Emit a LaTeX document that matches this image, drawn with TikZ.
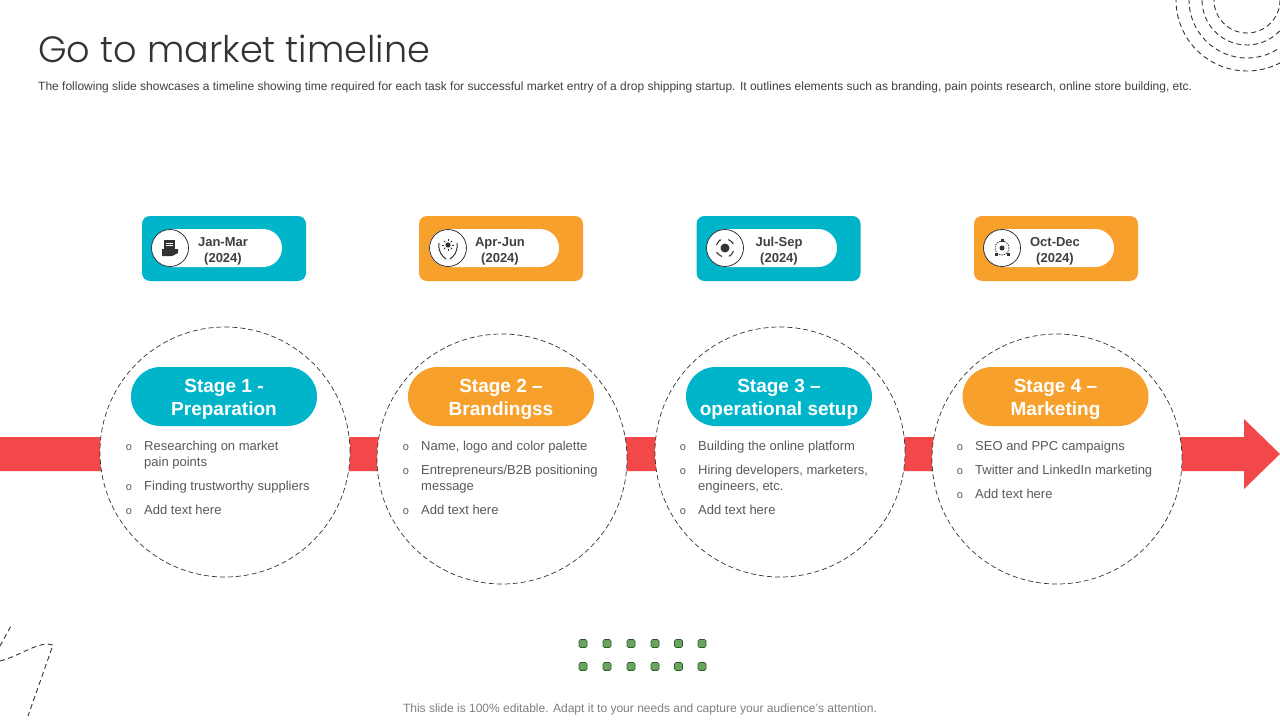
\documentclass[tikz,border=0pt]{standalone}
\usepackage{fontspec}
\setmainfont{Liberation Sans}
\IfFontExistsTF{Poppins Light}{\newfontfamily\titlefont{Poppins Light}}{\newfontfamily\titlefont{Poppins}}
\usepackage{graphicx}
\usetikzlibrary{calc,arrows.meta}
\definecolor{cTeal}{HTML}{00B4CA}
\definecolor{cOrange}{HTML}{F7A12C}
\definecolor{cRed}{HTML}{F2484A}
\definecolor{cTxt}{HTML}{595959}
\definecolor{cDark}{HTML}{404040}
\definecolor{cIcon}{HTML}{333333}
\definecolor{cGreen}{HTML}{6AA55F}
\definecolor{cGreenD}{HTML}{2E5A2A}
\definecolor{cFoot}{HTML}{7F7F7F}
\newcommand\bitem[4]{%
  \node[bultxt, anchor=base west] (#1) at (#2,#3) {#4};
  \node[bulmark, anchor=base] (#1m) at (#2-15,#3) {o};}
\newcommand\citem[4]{\node[bultxt, anchor=base west] (#1) at (#2,#3) {#4};}
\begin{document}
\begin{tikzpicture}[x=1pt,y=-1pt,
  datebox/.style={rounded corners=8pt, minimum width=164pt, minimum height=65pt, inner sep=0pt},
  datepill/.style={fill=white, rounded corners=19pt, minimum width=130pt, minimum height=38pt, inner sep=0pt},
  iconcirc/.style={circle, draw=cIcon, line width=0.8pt, fill=white, minimum size=37pt, inner sep=0pt},
  datetxt/.style={font=\fontsize{13}{16}\selectfont\bfseries, text=cDark, align=center, inner sep=0pt},
  stagepill/.style={rounded corners=29.5pt, minimum width=186pt, minimum height=59pt, inner sep=0pt},
  stagetxt/.style={text=white, align=center, inner sep=0pt, font=\fontsize{19}{23}\selectfont\bfseries},
  stagecirc/.style={circle, draw=cIcon, dash pattern=on 5pt off 3pt, line width=0.7pt, fill=white, minimum size=250pt, inner sep=0pt},
  bultxt/.style={font=\fontsize{13}{15}\selectfont, text=cTxt, inner sep=0pt},
  bulmark/.style={font=\fontsize{11}{12}\selectfont, text=cTxt, inner sep=0pt},
  gdot/.style={fill=cGreen, draw=cGreenD, line width=0.6pt, rounded corners=1.5pt, minimum size=8pt, inner sep=0pt},
  deco/.style={draw=cIcon, line width=0.9pt, dash pattern=on 5pt off 3.5pt},
  ico/.style={fill=cIcon},
  icol/.style={draw=cIcon, line width=1pt}
]
\useasboundingbox (0,0) rectangle (1280,720);
\fill[white] (0,0) rectangle (1280,720);

% decorations
\begin{scope}
\clip (0,0) rectangle (1280,720);
\foreach \r in {33,45,58,71} \draw[deco] (1247,0) circle (\r);
\draw[deco] (0,661) .. controls (20,656) and (40,640) .. (53,645) -- (28,716);
\draw[deco] (0,646) -- (12,624);
\end{scope}

% title
\node[anchor=base west, inner sep=0pt, text=cIcon] (title) at (38,62)
  {\resizebox{392pt}{!}{\titlefont Go to market timeline}};
\node[anchor=base west, inner sep=0pt, text=cDark] (sub) at (38,90)
  {\resizebox{1154pt}{!}{\fontsize{11}{13}\selectfont The following slide showcases a timeline showing time required for each task for successful market entry of a drop shipping startup. It outlines elements such as branding, pain points research, online store building, etc.}};

% date boxes
\node[datebox, fill=cTeal]   (d1) at (224,248.5) {};
\node[datebox, fill=cOrange] (d2) at (501,248.5) {};
\node[datebox, fill=cTeal]   (d3) at (778.5,248.5) {};
\node[datebox, fill=cOrange] (d4) at (1056,248.5) {};
\node[datepill] (p1) at (217,248) {};
\node[datepill] (p2) at (494,248) {};
\node[datepill] (p3) at (772,248) {};
\node[datepill] (p4) at (1049,248) {};
\node[iconcirc] (i1) at (170,248) {};
\node[iconcirc] (i2) at (448,248) {};
\node[iconcirc] (i3) at (725,248) {};
\node[iconcirc] (i4) at (1002,248) {};
\node[datetxt] (t1) at (223,251) {Jan-Mar\\(2024)};
\node[datetxt] (t2) at (500,251) {Apr-Jun\\(2024)};
\node[datetxt] (t3) at (779,251) {Jul-Sep\\(2024)};
\node[datetxt] (t4) at (1055,251) {Oct-Dec\\(2024)};

% icon 1
\fill[ico] (164,240) rectangle (175,249);
\fill[white] (166,242.5) rectangle (173,243.5);
\fill[white] (166,245) rectangle (173,246);
\fill[ico] (162,249) -- (178,249) -- (178,253) -- (172,256) -- (162,256) -- cycle;
% icon 2
\draw[icol] (439,243) .. controls (438,252) and (442,256) .. (446,259);
\draw[icol] (457,243) .. controls (458,252) and (454,256) .. (450,259);
\fill[ico] (448,245) circle (2.6);
\foreach \a in {0,45,...,315} \draw[icol, line width=0.8pt] ($(448,245)+(\a:3.8)$) -- ($(448,245)+(\a:5.8)$);
% icon 3
\fill[ico] (725,248) circle (4.5);
\foreach \a in {20,110,200,290} \draw[icol, -{Latex[length=2.5pt]}] ([shift={(\a:9)}]725,248) arc (\a:\a+50:9);
% icon 4
\draw[icol, line width=0.7pt, dash pattern=on 1.5pt off 1pt] (1002,248) circle (7);
\fill[ico] (1002,248) circle (2.5);
\fill[ico] (994.5,253) rectangle (997.5,256);
\fill[ico] (1006.5,253) rectangle (1009.5,256);
\fill[ico] (1000.5,238.5) rectangle (1003.5,241.5);

% red timeline arrow
\fill[cRed] (0,437) -- (1244,437) -- (1244,419) -- (1280,454) -- (1244,489) -- (1244,471) -- (0,471) -- cycle;

% stage circles
\node[stagecirc] (c1) at (225,452) {};
\node[stagecirc] (c2) at (502,459) {};
\node[stagecirc] (c3) at (780,452) {};
\node[stagecirc] (c4) at (1057,459) {};

% stage pills
\node[stagepill, fill=cTeal]   (s1) at (224,396.5) {};
\node[stagepill, fill=cOrange] (s2) at (501,396.5) {};
\node[stagepill, fill=cTeal]   (s3) at (779,396.5) {};
\node[stagepill, fill=cOrange] (s4) at (1055.5,396.5) {};
\node[stagetxt] (s1t) at (224,399.5) {Stage 1 -\\Preparation};
\node[stagetxt] (s2t) at (501,399.5) {Stage 2 --\\Brandingss};
\node[stagetxt] (s3t) at (779,399.5) {Stage 3 --\\operational setup};
\node[stagetxt] (s4t) at (1055.5,399.5) {Stage 4 --\\Marketing};

% bullets
\bitem{b1a}{144}{450}{Researching on market}
\citem{b1b}{144}{466}{pain points}
\bitem{b1c}{144}{490}{Finding trustworthy suppliers}
\bitem{b1d}{144}{514}{Add text here}

\bitem{b2a}{421}{450}{Name, logo and color palette}
\bitem{b2b}{421}{474}{Entrepreneurs/B2B positioning}
\citem{b2c}{421}{490}{message}
\bitem{b2d}{421}{514}{Add text here}

\bitem{b3a}{698}{450}{Building the online platform}
\bitem{b3b}{698}{474}{Hiring developers, marketers,}
\citem{b3c}{698}{490}{engineers, etc.}
\bitem{b3d}{698}{514}{Add text here}

\bitem{b4a}{975}{450}{SEO and PPC campaigns}
\bitem{b4b}{975}{474}{Twitter and LinkedIn marketing}
\bitem{b4c}{975}{498}{Add text here}

% green dots
\foreach \i/\x in {1/583,2/607,3/631,4/655,5/678.5,6/702}
  \foreach \j/\y in {1/643.5,2/666.5}
    \node[gdot] (g\i\j) at (\x,\y) {};

% footer
\node[anchor=base, inner sep=0pt, text=cFoot] (foot) at (640,712)
  {\resizebox{474pt}{!}{\fontsize{11}{13}\selectfont This slide is 100\% editable. Adapt it to your needs and capture your audience's attention.}};
\end{tikzpicture}
\end{document}
